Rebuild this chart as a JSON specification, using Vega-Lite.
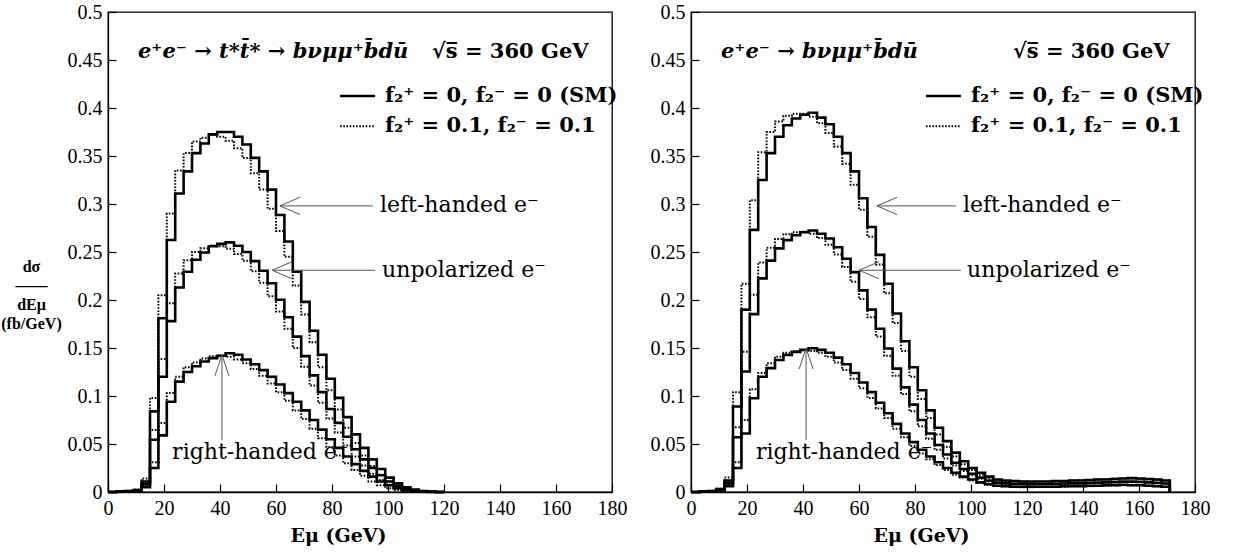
{
  "$schema": "https://vega.github.io/schema/vega-lite/v6.json",
  "background": "white",
  "padding": {"left": 0, "top": 1, "right": 5, "bottom": 0},
  "spacing": 21,
  "datasets": {
    "hl": [
      {"e":0,"Ls":0,"Ld":0,"Us":0,"Ud":0,"Rs":0,"Rd":0},
      {"e":3,"Ls":0.0005,"Ld":0.0005,"Us":0.0004,"Ud":0.0004,"Rs":0.0002,"Rd":0.0002},
      {"e":6,"Ls":0.001,"Ld":0.0012,"Us":0.0008,"Ud":0.0009,"Rs":0.0005,"Rd":0.0006},
      {"e":9,"Ls":0.002,"Ld":0.0025,"Us":0.0015,"Ud":0.0019,"Rs":0.001,"Rd":0.0012},
      {"e":12,"Ls":0.011,"Ld":0.014,"Us":0.008,"Ud":0.0105,"Rs":0.005,"Rd":0.007},
      {"e":15,"Ls":0.084,"Ld":0.098,"Us":0.0545,"Ud":0.0645,"Rs":0.025,"Rd":0.031},
      {"e":18,"Ls":0.181,"Ld":0.205,"Us":0.12,"Ud":0.1385,"Rs":0.059,"Rd":0.072},
      {"e":21,"Ls":0.2625,"Ld":0.29,"Us":0.178,"Ud":0.1965,"Rs":0.094,"Rd":0.103},
      {"e":24,"Ls":0.311,"Ld":0.335,"Us":0.213,"Ud":0.2275,"Rs":0.115,"Rd":0.12},
      {"e":27,"Ls":0.334,"Ld":0.353,"Us":0.2295,"Ud":0.2415,"Rs":0.125,"Rd":0.13},
      {"e":30,"Ls":0.353,"Ld":0.365,"Us":0.242,"Ud":0.25,"Rs":0.131,"Rd":0.135},
      {"e":33,"Ls":0.363,"Ld":0.369,"Us":0.2495,"Ud":0.254,"Rs":0.136,"Rd":0.139},
      {"e":36,"Ls":0.3725,"Ld":0.372,"Us":0.256,"Ud":0.2568,"Rs":0.1395,"Rd":0.1415},
      {"e":39,"Ls":0.375,"Ld":0.37,"Us":0.2585,"Ud":0.256,"Rs":0.142,"Rd":0.142},
      {"e":42,"Ls":0.375,"Ld":0.366,"Us":0.26,"Ud":0.2535,"Rs":0.1445,"Rd":0.141},
      {"e":45,"Ls":0.37,"Ld":0.358,"Us":0.2565,"Ud":0.248,"Rs":0.143,"Rd":0.138},
      {"e":48,"Ls":0.362,"Ld":0.348,"Us":0.25,"Ud":0.241,"Rs":0.138,"Rd":0.134},
      {"e":51,"Ls":0.348,"Ld":0.332,"Us":0.2405,"Ud":0.23,"Rs":0.133,"Rd":0.128},
      {"e":54,"Ls":0.334,"Ld":0.315,"Us":0.2305,"Ud":0.218,"Rs":0.127,"Rd":0.121},
      {"e":57,"Ls":0.315,"Ld":0.295,"Us":0.2175,"Ud":0.204,"Rs":0.12,"Rd":0.113},
      {"e":60,"Ls":0.2885,"Ld":0.272,"Us":0.2003,"Ud":0.188,"Rs":0.112,"Rd":0.104},
      {"e":63,"Ls":0.261,"Ld":0.245,"Us":0.182,"Ud":0.17,"Rs":0.103,"Rd":0.095},
      {"e":66,"Ls":0.2295,"Ld":0.215,"Us":0.1618,"Ud":0.15,"Rs":0.094,"Rd":0.085},
      {"e":69,"Ls":0.198,"Ld":0.185,"Us":0.1415,"Ud":0.1305,"Rs":0.085,"Rd":0.076},
      {"e":72,"Ls":0.168,"Ld":0.156,"Us":0.1215,"Ud":0.111,"Rs":0.075,"Rd":0.066},
      {"e":75,"Ls":0.143,"Ld":0.13,"Us":0.104,"Ud":0.093,"Rs":0.065,"Rd":0.056},
      {"e":78,"Ls":0.118,"Ld":0.106,"Us":0.0865,"Ud":0.0765,"Rs":0.055,"Rd":0.047},
      {"e":81,"Ls":0.098,"Ld":0.086,"Us":0.072,"Ud":0.062,"Rs":0.046,"Rd":0.038},
      {"e":84,"Ls":0.078,"Ld":0.067,"Us":0.0575,"Ud":0.0485,"Rs":0.037,"Rd":0.03},
      {"e":87,"Ls":0.06,"Ld":0.051,"Us":0.0445,"Ud":0.037,"Rs":0.029,"Rd":0.023},
      {"e":90,"Ls":0.046,"Ld":0.038,"Us":0.034,"Ud":0.0275,"Rs":0.022,"Rd":0.017},
      {"e":93,"Ls":0.034,"Ld":0.027,"Us":0.025,"Ud":0.019,"Rs":0.016,"Rd":0.011},
      {"e":96,"Ls":0.024,"Ld":0.018,"Us":0.0175,"Ud":0.0125,"Rs":0.011,"Rd":0.007},
      {"e":99,"Ls":0.015,"Ld":0.011,"Us":0.011,"Ud":0.0075,"Rs":0.007,"Rd":0.004},
      {"e":102,"Ls":0.009,"Ld":0.006,"Us":0.0065,"Ud":0.004,"Rs":0.004,"Rd":0.002},
      {"e":105,"Ls":0.005,"Ld":0.003,"Us":0.0035,"Ud":0.002,"Rs":0.002,"Rd":0.001},
      {"e":108,"Ls":0.0025,"Ld":0.0015,"Us":0.0018,"Ud":0.001,"Rs":0.001,"Rd":0.0005},
      {"e":111,"Ls":0.001,"Ld":0.0005,"Us":0.0008,"Ud":0.0003,"Rs":0.0005,"Rd":0},
      {"e":114,"Ls":0.0005,"Ld":0.0002,"Us":0.0003,"Ud":0.0001,"Rs":0,"Rd":0},
      {"e":117,"Ls":0,"Ld":0,"Us":0,"Ud":0,"Rs":0,"Rd":0},
      {"e":120,"Ls":0,"Ld":0,"Us":0,"Ud":0,"Rs":0,"Rd":0}
    ],
    "hr": [
      {"e":0,"Ls":0,"Ld":0,"Us":0,"Ud":0,"Rs":0,"Rd":0},
      {"e":3,"Ls":0.0005,"Ld":0.0005,"Us":0.0004,"Ud":0.0004,"Rs":0.0003,"Rd":0.0003},
      {"e":6,"Ls":0.001,"Ld":0.0012,"Us":0.0008,"Ud":0.001,"Rs":0.0006,"Rd":0.0007},
      {"e":9,"Ls":0.003,"Ld":0.0035,"Us":0.0023,"Ud":0.0027,"Rs":0.0015,"Rd":0.0018},
      {"e":12,"Ls":0.012,"Ld":0.015,"Us":0.009,"Ud":0.0115,"Rs":0.006,"Rd":0.008},
      {"e":15,"Ls":0.089,"Ld":0.104,"Us":0.057,"Ud":0.0675,"Rs":0.025,"Rd":0.031},
      {"e":18,"Ls":0.19,"Ld":0.217,"Us":0.1255,"Ud":0.146,"Rs":0.061,"Rd":0.075},
      {"e":21,"Ls":0.273,"Ld":0.304,"Us":0.1853,"Ud":0.2055,"Rs":0.0976,"Rd":0.107},
      {"e":24,"Ls":0.325,"Ld":0.354,"Us":0.2225,"Ud":0.239,"Rs":0.12,"Rd":0.124},
      {"e":27,"Ls":0.353,"Ld":0.375,"Us":0.241,"Ud":0.2545,"Rs":0.129,"Rd":0.134},
      {"e":30,"Ls":0.37,"Ld":0.386,"Us":0.2538,"Ud":0.2635,"Rs":0.1375,"Rd":0.141},
      {"e":33,"Ls":0.382,"Ld":0.392,"Us":0.2624,"Ud":0.2685,"Rs":0.1427,"Rd":0.145},
      {"e":36,"Ls":0.389,"Ld":0.394,"Us":0.2675,"Ud":0.2705,"Rs":0.146,"Rd":0.147},
      {"e":39,"Ls":0.393,"Ld":0.394,"Us":0.2705,"Ud":0.271,"Rs":0.148,"Rd":0.148},
      {"e":42,"Ls":0.395,"Ld":0.391,"Us":0.2724,"Ud":0.269,"Rs":0.1497,"Rd":0.147},
      {"e":45,"Ls":0.39,"Ld":0.384,"Us":0.269,"Ud":0.2645,"Rs":0.148,"Rd":0.145},
      {"e":48,"Ls":0.383,"Ld":0.374,"Us":0.264,"Ud":0.2575,"Rs":0.145,"Rd":0.141},
      {"e":51,"Ls":0.37,"Ld":0.36,"Us":0.255,"Ud":0.2475,"Rs":0.14,"Rd":0.135},
      {"e":54,"Ls":0.353,"Ld":0.342,"Us":0.243,"Ud":0.2345,"Rs":0.133,"Rd":0.127},
      {"e":57,"Ls":0.334,"Ld":0.32,"Us":0.229,"Ud":0.219,"Rs":0.124,"Rd":0.118},
      {"e":60,"Ls":0.306,"Ld":0.294,"Us":0.21,"Ud":0.201,"Rs":0.114,"Rd":0.108},
      {"e":63,"Ls":0.276,"Ld":0.266,"Us":0.19,"Ud":0.182,"Rs":0.104,"Rd":0.098},
      {"e":66,"Ls":0.247,"Ld":0.237,"Us":0.17,"Ud":0.162,"Rs":0.093,"Rd":0.087},
      {"e":69,"Ls":0.217,"Ld":0.207,"Us":0.1495,"Ud":0.142,"Rs":0.082,"Rd":0.077},
      {"e":72,"Ls":0.186,"Ld":0.176,"Us":0.1285,"Ud":0.121,"Rs":0.071,"Rd":0.066},
      {"e":75,"Ls":0.157,"Ld":0.147,"Us":0.109,"Ud":0.102,"Rs":0.061,"Rd":0.057},
      {"e":78,"Ls":0.13,"Ld":0.12,"Us":0.091,"Ud":0.084,"Rs":0.052,"Rd":0.048},
      {"e":81,"Ls":0.106,"Ld":0.097,"Us":0.075,"Ud":0.0685,"Rs":0.044,"Rd":0.04},
      {"e":84,"Ls":0.085,"Ld":0.077,"Us":0.061,"Ud":0.0555,"Rs":0.037,"Rd":0.034},
      {"e":87,"Ls":0.067,"Ld":0.06,"Us":0.049,"Ud":0.044,"Rs":0.031,"Rd":0.028},
      {"e":90,"Ls":0.053,"Ld":0.047,"Us":0.039,"Ud":0.035,"Rs":0.025,"Rd":0.023},
      {"e":93,"Ls":0.041,"Ld":0.037,"Us":0.0305,"Ud":0.0275,"Rs":0.02,"Rd":0.018},
      {"e":96,"Ls":0.032,"Ld":0.029,"Us":0.024,"Ud":0.022,"Rs":0.016,"Rd":0.015},
      {"e":99,"Ls":0.025,"Ld":0.023,"Us":0.019,"Ud":0.0175,"Rs":0.013,"Rd":0.012},
      {"e":102,"Ls":0.02,"Ld":0.018,"Us":0.015,"Ud":0.0138,"Rs":0.01,"Rd":0.0095},
      {"e":105,"Ls":0.016,"Ld":0.0145,"Us":0.012,"Ud":0.011,"Rs":0.008,"Rd":0.0075},
      {"e":108,"Ls":0.013,"Ld":0.012,"Us":0.0098,"Ud":0.0093,"Rs":0.0065,"Rd":0.0065},
      {"e":111,"Ls":0.012,"Ld":0.0115,"Us":0.009,"Ud":0.0088,"Rs":0.006,"Rd":0.006},
      {"e":114,"Ls":0.0115,"Ld":0.011,"Us":0.0085,"Ud":0.0083,"Rs":0.0055,"Rd":0.0055},
      {"e":117,"Ls":0.011,"Ld":0.011,"Us":0.0083,"Ud":0.008,"Rs":0.0055,"Rd":0.005},
      {"e":120,"Ls":0.011,"Ld":0.0105,"Us":0.0083,"Ud":0.0078,"Rs":0.0055,"Rd":0.005},
      {"e":123,"Ls":0.011,"Ld":0.011,"Us":0.0083,"Ud":0.0083,"Rs":0.0055,"Rd":0.0055},
      {"e":126,"Ls":0.011,"Ld":0.011,"Us":0.0083,"Ud":0.0083,"Rs":0.0055,"Rd":0.0055},
      {"e":129,"Ls":0.0115,"Ld":0.011,"Us":0.0085,"Ud":0.0083,"Rs":0.0055,"Rd":0.0055},
      {"e":132,"Ls":0.0115,"Ld":0.0115,"Us":0.0088,"Ud":0.0085,"Rs":0.006,"Rd":0.0055},
      {"e":135,"Ls":0.012,"Ld":0.012,"Us":0.009,"Ud":0.009,"Rs":0.006,"Rd":0.006},
      {"e":138,"Ls":0.012,"Ld":0.0125,"Us":0.009,"Ud":0.0093,"Rs":0.006,"Rd":0.006},
      {"e":141,"Ls":0.0125,"Ld":0.0125,"Us":0.0095,"Ud":0.0093,"Rs":0.0065,"Rd":0.006},
      {"e":144,"Ls":0.013,"Ld":0.013,"Us":0.0098,"Ud":0.0098,"Rs":0.0065,"Rd":0.0065},
      {"e":147,"Ls":0.013,"Ld":0.0135,"Us":0.01,"Ud":0.01,"Rs":0.007,"Rd":0.0065},
      {"e":150,"Ls":0.0135,"Ld":0.014,"Us":0.0103,"Ud":0.0105,"Rs":0.007,"Rd":0.007},
      {"e":153,"Ls":0.014,"Ld":0.014,"Us":0.0108,"Ud":0.0105,"Rs":0.0075,"Rd":0.007},
      {"e":156,"Ls":0.0145,"Ld":0.014,"Us":0.0108,"Ud":0.0105,"Rs":0.007,"Rd":0.007},
      {"e":159,"Ls":0.014,"Ld":0.0135,"Us":0.0105,"Ud":0.0103,"Rs":0.007,"Rd":0.007},
      {"e":162,"Ls":0.0135,"Ld":0.013,"Us":0.01,"Ud":0.0098,"Rs":0.0065,"Rd":0.0065},
      {"e":165,"Ls":0.013,"Ld":0.0125,"Us":0.0095,"Ud":0.0093,"Rs":0.006,"Rd":0.006},
      {"e":168,"Ls":0.012,"Ld":0.012,"Us":0.0088,"Ud":0.0088,"Rs":0.0055,"Rd":0.0055},
      {"e":171,"Ls":0,"Ld":0,"Us":0,"Ud":0,"Rs":0,"Rd":0}
    ],
    "rules": [
      {"p":"L","k":"arrow","x":94.6,"x2":61.4,"y":0.298,"y2":0.298},
      {"p":"L","k":"arrow","x":61.4,"x2":68.6,"y":0.298,"y2":0.307},
      {"p":"L","k":"arrow","x":61.4,"x2":68.6,"y":0.298,"y2":0.289},
      {"p":"L","k":"arrow","x":95.4,"x2":58.6,"y":0.231,"y2":0.231},
      {"p":"L","k":"arrow","x":58.6,"x2":65.8,"y":0.231,"y2":0.24},
      {"p":"L","k":"arrow","x":58.6,"x2":65.8,"y":0.231,"y2":0.222},
      {"p":"L","k":"arrow","x":40.7,"x2":40.7,"y":0.054,"y2":0.143},
      {"p":"L","k":"arrow","x":40.7,"x2":38.2,"y":0.143,"y2":0.121},
      {"p":"L","k":"arrow","x":40.7,"x2":43.2,"y":0.143,"y2":0.121},
      {"p":"L","k":"legs","x":82.9,"x2":95.4,"y":0.4125,"y2":0.4125},
      {"p":"L","k":"legd","x":82.9,"x2":95.4,"y":0.381,"y2":0.381},
      {"p":"R","k":"arrow","x":94.6,"x2":66.4,"y":0.298,"y2":0.298},
      {"p":"R","k":"arrow","x":66.4,"x2":73.6,"y":0.298,"y2":0.307},
      {"p":"R","k":"arrow","x":66.4,"x2":73.6,"y":0.298,"y2":0.289},
      {"p":"R","k":"arrow","x":96.4,"x2":60,"y":0.231,"y2":0.231},
      {"p":"R","k":"arrow","x":60,"x2":67.2,"y":0.231,"y2":0.24},
      {"p":"R","k":"arrow","x":60,"x2":67.2,"y":0.231,"y2":0.222},
      {"p":"R","k":"arrow","x":41.1,"x2":41.1,"y":0.054,"y2":0.15},
      {"p":"R","k":"arrow","x":41.1,"x2":38.6,"y":0.15,"y2":0.128},
      {"p":"R","k":"arrow","x":41.1,"x2":43.6,"y":0.15,"y2":0.128},
      {"p":"R","k":"legs","x":83.9,"x2":96.4,"y":0.4125,"y2":0.4125},
      {"p":"R","k":"legd","x":83.9,"x2":96.4,"y":0.381,"y2":0.381}
    ],
    "ann": [
      {"p":"L","k":"math","x":10.7,"y":0.458,"t":"e⁺e⁻ → t*t̄* → bνμμ⁺b̄dū"},
      {"p":"L","k":"bold","x":115.7,"y":0.458,"t":"√s̅ = 360 GeV"},
      {"p":"L","k":"bold","x":98.9,"y":0.4125,"t":"f₂⁺ = 0, f₂⁻ = 0 (SM)"},
      {"p":"L","k":"bold","x":98.9,"y":0.381,"t":"f₂⁺ = 0.1, f₂⁻ = 0.1"},
      {"p":"L","k":"lab","x":97.1,"y":0.299,"t":"left-handed e⁻"},
      {"p":"L","k":"lab","x":97.9,"y":0.231,"t":"unpolarized e⁻"},
      {"p":"L","k":"lab","x":22.9,"y":0.0417,"t":"right-handed e⁻"},
      {"p":"R","k":"math","x":10.7,"y":0.458,"t":"e⁺e⁻ → bνμμ⁺b̄dū"},
      {"p":"R","k":"bold","x":115,"y":0.458,"t":"√s̅ = 360 GeV"},
      {"p":"R","k":"bold","x":100,"y":0.4125,"t":"f₂⁺ = 0, f₂⁻ = 0 (SM)"},
      {"p":"R","k":"bold","x":100,"y":0.381,"t":"f₂⁺ = 0.1, f₂⁻ = 0.1"},
      {"p":"R","k":"lab","x":97.1,"y":0.299,"t":"left-handed e⁻"},
      {"p":"R","k":"lab","x":98.6,"y":0.231,"t":"unpolarized e⁻"},
      {"p":"R","k":"lab","x":23.2,"y":0.0417,"t":"right-handed e⁻"}
    ]
  },
  "hconcat": [
    {
      "width": 504,
      "height": 480,
      "layer": [
        {
          "data": {"name": "hl"},
          "transform": [{"fold": ["Ls", "Us", "Rs"], "as": ["s", "v"]}],
          "mark": {"type": "line", "interpolate": "step-after", "color": "black", "strokeWidth": 2.6, "strokeJoin": "miter"},
          "encoding": {
            "x": {"field": "e", "type": "quantitative", "scale": {"domain": [0, 180], "nice": false},
                  "axis": {"values": [0,20,40,60,80,100,120,140,160,180], "title": "Eμ (GeV)", "labelFlush": false, "titleX": 230, "titleAlign": "center"}},
            "y": {"field": "v", "type": "quantitative", "scale": {"domain": [0, 0.5], "nice": false},
                  "axis": {"values": [0,0.05,0.1,0.15,0.2,0.25,0.3,0.35,0.4,0.45,0.5], "format": ".2~f", "labelFlush": false,
                           "title": ["dσ", "——", "dEμ", "", "(fb/GeV)"], "titleAngle": 0, "titleAlign": "center", "titleBaseline": "top",
                           "titleX": -77, "titleY": 246, "titleLineHeight": 19, "titleFontSize": 16, "titleFont": "Liberation Serif"}},
            "detail": {"field": "s"}
          }
        },
        {
          "data": {"name": "hl"},
          "transform": [{"fold": ["Ld", "Ud", "Rd"], "as": ["s", "v"]}],
          "mark": {"type": "line", "interpolate": "step-after", "color": "black", "strokeWidth": 2, "strokeDash": [1.6, 1.6]},
          "encoding": {
            "x": {"field": "e", "type": "quantitative"},
            "y": {"field": "v", "type": "quantitative"},
            "detail": {"field": "s"}
          }
        },
        {
          "data": {"name": "rules"},
          "transform": [{"filter": "datum.p === 'L' && datum.k === 'arrow'"}],
          "mark": {"type": "rule", "color": "#555555", "strokeWidth": 1},
          "encoding": {"x": {"field": "x", "type": "quantitative"}, "x2": {"field": "x2"}, "y": {"field": "y", "type": "quantitative"}, "y2": {"field": "y2"}}
        },
        {
          "data": {"name": "rules"},
          "transform": [{"filter": "datum.p === 'L' && datum.k === 'legs'"}],
          "mark": {"type": "rule", "color": "black", "strokeWidth": 2.6},
          "encoding": {"x": {"field": "x", "type": "quantitative"}, "x2": {"field": "x2"}, "y": {"field": "y", "type": "quantitative"}, "y2": {"field": "y2"}}
        },
        {
          "data": {"name": "rules"},
          "transform": [{"filter": "datum.p === 'L' && datum.k === 'legd'"}],
          "mark": {"type": "rule", "color": "black", "strokeWidth": 2, "strokeDash": [1.6, 1.6]},
          "encoding": {"x": {"field": "x", "type": "quantitative"}, "x2": {"field": "x2"}, "y": {"field": "y", "type": "quantitative"}, "y2": {"field": "y2"}}
        },
        {
          "data": {"name": "ann"},
          "transform": [{"filter": "datum.p === 'L' && datum.k === 'math'"}],
          "mark": {"type": "text", "align": "left", "baseline": "middle", "font": "DejaVu Serif", "fontSize": 21, "fontWeight": "bold", "fontStyle": "italic", "color": "black"},
          "encoding": {"x": {"field": "x", "type": "quantitative"}, "y": {"field": "y", "type": "quantitative"}, "text": {"field": "t"}}
        },
        {
          "data": {"name": "ann"},
          "transform": [{"filter": "datum.p === 'L' && datum.k === 'bold'"}],
          "mark": {"type": "text", "align": "left", "baseline": "middle", "font": "DejaVu Serif", "fontSize": 21, "fontWeight": "bold", "color": "black"},
          "encoding": {"x": {"field": "x", "type": "quantitative"}, "y": {"field": "y", "type": "quantitative"}, "text": {"field": "t"}}
        },
        {
          "data": {"name": "ann"},
          "transform": [{"filter": "datum.p === 'L' && datum.k === 'lab'"}],
          "mark": {"type": "text", "align": "left", "baseline": "middle", "font": "DejaVu Serif", "fontSize": 22, "color": "black"},
          "encoding": {"x": {"field": "x", "type": "quantitative"}, "y": {"field": "y", "type": "quantitative"}, "text": {"field": "t"}}
        }
      ]
    },
    {
      "width": 504,
      "height": 480,
      "layer": [
        {
          "data": {"name": "hr"},
          "transform": [{"fold": ["Ls", "Us", "Rs"], "as": ["s", "v"]}],
          "mark": {"type": "line", "interpolate": "step-after", "color": "black", "strokeWidth": 2.6, "strokeJoin": "miter"},
          "encoding": {
            "x": {"field": "e", "type": "quantitative", "scale": {"domain": [0, 180], "nice": false},
                  "axis": {"values": [0,20,40,60,80,100,120,140,160,180], "title": "Eμ (GeV)", "labelFlush": false, "titleX": 230, "titleAlign": "center"}},
            "y": {"field": "v", "type": "quantitative", "scale": {"domain": [0, 0.5], "nice": false},
                  "axis": {"values": [0,0.05,0.1,0.15,0.2,0.25,0.3,0.35,0.4,0.45,0.5], "format": ".2~f", "labelFlush": false, "title": null}},
            "detail": {"field": "s"}
          }
        },
        {
          "data": {"name": "hr"},
          "transform": [{"fold": ["Ld", "Ud", "Rd"], "as": ["s", "v"]}],
          "mark": {"type": "line", "interpolate": "step-after", "color": "black", "strokeWidth": 2, "strokeDash": [1.6, 1.6]},
          "encoding": {
            "x": {"field": "e", "type": "quantitative"},
            "y": {"field": "v", "type": "quantitative"},
            "detail": {"field": "s"}
          }
        },
        {
          "data": {"name": "rules"},
          "transform": [{"filter": "datum.p === 'R' && datum.k === 'arrow'"}],
          "mark": {"type": "rule", "color": "#555555", "strokeWidth": 1},
          "encoding": {"x": {"field": "x", "type": "quantitative"}, "x2": {"field": "x2"}, "y": {"field": "y", "type": "quantitative"}, "y2": {"field": "y2"}}
        },
        {
          "data": {"name": "rules"},
          "transform": [{"filter": "datum.p === 'R' && datum.k === 'legs'"}],
          "mark": {"type": "rule", "color": "black", "strokeWidth": 2.6},
          "encoding": {"x": {"field": "x", "type": "quantitative"}, "x2": {"field": "x2"}, "y": {"field": "y", "type": "quantitative"}, "y2": {"field": "y2"}}
        },
        {
          "data": {"name": "rules"},
          "transform": [{"filter": "datum.p === 'R' && datum.k === 'legd'"}],
          "mark": {"type": "rule", "color": "black", "strokeWidth": 2, "strokeDash": [1.6, 1.6]},
          "encoding": {"x": {"field": "x", "type": "quantitative"}, "x2": {"field": "x2"}, "y": {"field": "y", "type": "quantitative"}, "y2": {"field": "y2"}}
        },
        {
          "data": {"name": "ann"},
          "transform": [{"filter": "datum.p === 'R' && datum.k === 'math'"}],
          "mark": {"type": "text", "align": "left", "baseline": "middle", "font": "DejaVu Serif", "fontSize": 21, "fontWeight": "bold", "fontStyle": "italic", "color": "black"},
          "encoding": {"x": {"field": "x", "type": "quantitative"}, "y": {"field": "y", "type": "quantitative"}, "text": {"field": "t"}}
        },
        {
          "data": {"name": "ann"},
          "transform": [{"filter": "datum.p === 'R' && datum.k === 'bold'"}],
          "mark": {"type": "text", "align": "left", "baseline": "middle", "font": "DejaVu Serif", "fontSize": 21, "fontWeight": "bold", "color": "black"},
          "encoding": {"x": {"field": "x", "type": "quantitative"}, "y": {"field": "y", "type": "quantitative"}, "text": {"field": "t"}}
        },
        {
          "data": {"name": "ann"},
          "transform": [{"filter": "datum.p === 'R' && datum.k === 'lab'"}],
          "mark": {"type": "text", "align": "left", "baseline": "middle", "font": "DejaVu Serif", "fontSize": 22, "color": "black"},
          "encoding": {"x": {"field": "x", "type": "quantitative"}, "y": {"field": "y", "type": "quantitative"}, "text": {"field": "t"}}
        }
      ]
    }
  ],
  "config": {
    "view": {"stroke": "black", "strokeWidth": 1.3},
    "axis": {
      "grid": false,
      "domainColor": "black",
      "domainWidth": 1.3,
      "tickColor": "black",
      "tickWidth": 1.2,
      "tickSize": -8,
      "labelPadding": 14,
      "labelFont": "Liberation Serif",
      "labelFontSize": 20,
      "labelColor": "black",
      "titleFont": "DejaVu Serif",
      "titleFontSize": 19,
      "titleFontWeight": "bold",
      "titleColor": "black",
      "titlePadding": 8
    }
  }
}
